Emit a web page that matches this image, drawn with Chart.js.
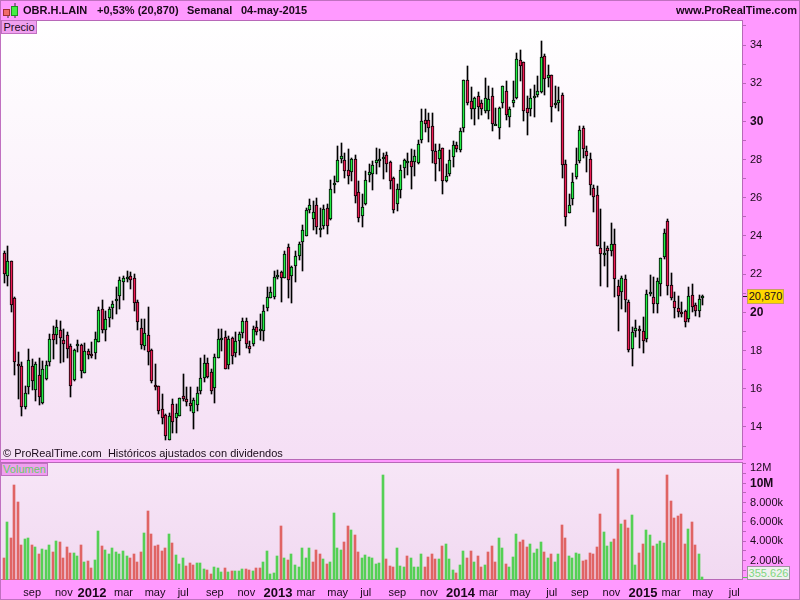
<!DOCTYPE html>
<html>
<head>
<meta charset="utf-8">
<title>OBR.H.LAIN</title>
<script src="https://cdn.jsdelivr.net/npm/chart.js@4"></script>
<style>
html, body { margin:0; padding:0; width:800px; height:600px; overflow:hidden; background:#ff99ff; font-family:"Liberation Sans", Arial, sans-serif; color:#1a0a1a; }
canvas { position:absolute; left:0; }
#priceChart { top:20px; }
#volumeChart { top:452px; }
.txt { position:absolute; white-space:pre; font-size:11px; line-height:14px; }
.head { font-weight:bold; top:3px; }
.tag { position:absolute; box-sizing:border-box; font-size:11px; text-align:center; }
.mark { position:absolute; left:743px; width:4px; height:1px; }
.frame { position:absolute; left:0; top:0; width:798px; height:598px; border:1px solid #c070c0; pointer-events:none; }
</style>
</head>
<body>
<canvas id="priceChart" width="800" height="440"></canvas>
<canvas id="volumeChart" width="800" height="148"></canvas>

<div class="frame"></div>

<svg style="position:absolute;left:3px;top:3px" width="16" height="16">
<path d="M5 7V15M12 0V15" stroke="#333" fill="none"/>
<rect x="0.5" y="6.5" width="6" height="6" fill="#f06a6a" stroke="#a03030"/>
<rect x="8.5" y="3.5" width="6" height="9" fill="#44ee44" stroke="#209020"/>
</svg>
<div class="txt head" style="left:23px">OBR.H.LAIN</div>
<div class="txt head" style="left:97px">+0,53% (20,870)</div>
<div class="txt head" style="left:187px">Semanal</div>
<div class="txt head" style="left:241px">04-may-2015</div>
<div class="txt head" style="right:3px">www.ProRealTime.com</div>

<div class="tag" style="left:1px;top:20px;width:36px;height:14px;line-height:12px;background:#f0a0f0;border:1px solid #c070c0">Precio</div>
<div class="txt" style="left:3px;top:446px">© ProRealTime.com  Históricos ajustados con dividendos</div>
<div class="tag" style="left:1px;top:463px;width:47px;height:13px;line-height:11px;background:#f0a0f0;border:1px solid #c070c0;color:#66cc66">Volumen</div>
<div class="txt" style="left:750px;top:460px">12M</div>

<div class="mark" style="top:296px;background:#222"></div>
<div class="tag" style="left:747px;top:289px;width:37px;height:15px;line-height:13px;background:#ffd700;border:1px solid #c8a060">20,870</div>
<div class="mark" style="top:577px;background:#55d055"></div>
<div class="tag" style="left:747px;top:566px;width:43px;height:14px;line-height:12px;background:#f0f0f0;border:1px solid #a090a0;color:#80d880">355.626</div>

<script>
// WEEKLY CANDLES
const opens = [23.12,21.89,22.68,20.76,17.29,17.19,15.02,16.07,17.20,15.96,16.71,15.28,16.50,17.38,18.87,18.80,19.09,18.55,18.81,18.24,
16.45,18.27,18.29,16.85,17.97,17.81,17.85,18.45,20.18,19.07,19.69,20.21,20.58,20.84,21.59,21.82,21.91,21.81,20.55,19.18,
18.24,18.81,18.04,16.19,16.13,14.93,14.61,13.30,15.19,14.46,14.59,15.61,15.45,15.24,14.75,15.15,15.86,16.54,17.34,16.87,
16.03,17.59,18.60,18.71,17.22,18.66,17.85,18.48,18.90,19.55,18.24,18.32,19.23,19.11,19.02,20.21,20.76,20.81,21.89,22.12,
21.81,23.43,21.91,22.44,22.96,23.69,24.01,25.37,24.90,25.64,24.38,24.50,25.48,24.90,26.74,26.85,28.04,28.00,27.48,27.37,
28.02,26.32,25.06,25.69,27.21,27.27,27.84,28.00,28.11,28.25,27.90,27.05,25.69,26.43,27.56,27.90,27.93,27.90,27.84,29.05,
30.05,30.05,29.78,28.47,28.03,28.60,26.86,27.25,28.16,28.74,28.52,29.63,32.15,31.05,30.63,31.31,30.94,30.52,30.57,31.31,
29.82,29.68,30.94,31.57,30.21,30.94,31.20,33.20,33.09,30.68,30.63,31.24,31.36,31.52,33.41,32.29,32.41,30.96,30.98,31.36,
27.79,25.22,25.95,27.11,27.93,29.63,28.47,28.05,26.53,26.16,23.38,23.07,23.38,23.21,23.59,21.39,21.05,21.75,20.55,18.06,
19.00,19.12,19.02,18.59,21.05,20.81,20.42,21.47,22.89,24.80,21.44,20.60,20.23,20.02,20.07,19.64,20.91,20.39,20.07,20.77];
const highs = [23.24,23.45,22.68,20.79,17.94,17.38,16.15,18.10,17.55,17.41,17.60,17.47,17.47,18.87,19.30,19.60,19.57,19.13,18.95,18.34,
18.08,18.57,18.34,18.38,18.08,18.46,18.95,20.30,20.65,20.09,20.27,20.58,21.35,21.84,21.88,22.19,22.14,22.02,20.65,19.65,
19.65,20.30,18.08,17.29,16.15,15.72,14.66,14.75,15.45,15.19,15.54,16.77,16.07,16.10,15.54,16.07,17.61,17.78,17.61,17.05,
17.82,19.13,19.13,19.04,18.78,18.69,18.95,18.95,19.69,19.72,18.51,19.29,19.57,19.93,20.41,21.35,21.35,22.19,22.23,22.19,
23.24,23.56,22.45,23.24,23.66,24.55,25.45,25.95,25.81,26.01,25.48,25.64,25.69,26.92,27.12,28.70,28.89,28.32,28.54,28.10,
28.23,26.88,26.18,27.39,27.76,27.93,28.63,28.53,28.32,28.40,27.93,27.09,26.74,27.70,28.05,28.32,28.58,28.49,29.05,30.63,
30.63,30.42,30.42,28.84,28.84,28.63,27.79,28.49,28.98,28.93,29.63,32.17,32.90,31.78,31.29,31.55,31.12,32.25,31.85,31.73,
30.68,30.77,31.83,32.13,30.73,32.11,33.60,33.74,33.13,31.33,31.68,31.90,32.38,34.21,33.53,32.95,32.41,31.85,31.78,31.47,
27.97,26.22,27.32,28.63,29.75,29.75,28.73,28.32,26.65,26.60,25.39,23.70,23.45,24.69,24.34,21.72,21.93,21.96,20.65,19.25,
19.60,19.30,19.74,21.19,21.98,21.87,21.81,22.85,24.38,24.90,22.07,21.05,20.88,20.55,20.13,21.35,21.49,20.49,20.93,20.93];
const lows = [21.53,21.40,20.00,16.71,15.45,14.58,14.93,15.75,15.93,15.37,15.14,15.22,16.47,17.20,17.55,18.34,17.33,17.41,17.59,15.59,
16.42,17.95,16.59,16.85,17.55,17.60,17.55,18.43,18.90,18.48,19.21,19.65,19.91,20.18,20.65,21.58,21.23,20.09,19.07,18.08,
18.03,17.24,16.31,15.92,14.66,14.14,13.30,13.30,13.70,13.70,14.58,15.37,15.10,14.84,13.91,14.84,15.75,16.38,16.56,15.75,
15.23,17.59,17.99,17.06,17.06,17.32,17.64,17.78,18.64,18.11,17.85,18.22,18.83,18.55,18.48,20.06,20.74,20.69,21.75,20.53,
21.79,20.74,20.47,21.58,22.72,22.15,24.01,25.20,24.29,24.12,23.94,24.36,24.08,24.82,26.25,26.83,27.84,27.04,26.74,26.88,
25.73,24.73,24.47,25.62,26.83,26.39,27.27,27.62,26.97,27.35,26.44,25.20,25.30,25.99,27.05,27.18,26.46,27.14,27.75,28.88,
29.42,28.93,27.83,26.88,27.39,26.18,26.83,27.13,27.62,28.40,28.40,29.45,30.85,30.12,29.80,30.15,30.33,30.45,30.10,29.49,
29.82,29.09,30.68,30.07,29.72,30.73,31.15,32.13,30.03,29.28,30.27,30.24,31.29,31.47,31.36,31.78,29.98,30.68,30.56,27.04,
24.52,25.20,25.64,26.98,27.83,28.09,27.35,26.15,25.24,23.47,21.40,22.45,21.32,22.94,20.79,19.01,20.18,20.00,17.94,17.20,
18.73,18.11,17.89,18.43,20.88,19.99,19.95,20.88,22.77,20.93,20.67,19.69,19.74,19.74,19.22,19.48,20.00,19.83,19.77,20.41];
const closes = [22.02,22.68,20.39,17.39,17.17,15.03,15.77,17.50,16.43,17.29,15.59,17.03,17.24,18.60,18.53,19.22,18.64,18.32,18.08,16.12,
18.03,18.32,16.91,17.97,17.76,17.69,18.60,20.12,19.07,19.65,20.18,20.42,20.70,21.68,21.81,21.86,21.68,20.49,19.50,18.27,
18.92,17.92,16.43,16.15,14.82,14.46,13.51,14.56,14.28,14.72,15.50,15.49,15.33,15.12,15.40,15.77,16.56,17.34,16.63,15.86,
17.66,18.60,18.64,17.06,18.60,17.69,18.50,18.87,19.55,18.37,18.06,19.13,18.95,19.15,20.07,20.81,21.07,21.86,21.96,21.79,
23.07,21.70,22.38,22.96,23.59,24.32,25.37,25.64,25.27,24.48,24.43,25.43,24.54,26.46,26.79,28.00,28.19,27.42,27.16,28.02,
26.11,24.94,25.53,26.93,27.37,27.74,27.98,28.05,28.16,27.79,26.90,25.37,26.46,27.48,27.98,27.95,27.62,28.21,28.84,30.03,
29.87,29.68,28.47,27.77,28.52,26.90,27.16,28.00,28.74,28.56,29.52,32.15,30.94,30.63,31.24,30.78,30.63,31.24,31.19,29.89,
29.87,30.71,31.83,30.36,30.66,31.13,33.25,32.92,30.57,30.42,31.24,31.33,31.57,33.36,32.20,32.41,30.78,30.99,31.10,27.74,
25.01,25.64,26.85,27.79,29.57,28.58,28.19,26.67,26.06,23.49,23.05,23.10,23.22,23.59,21.74,20.84,21.81,20.63,18.01,18.97,
19.18,19.00,18.50,20.97,21.09,20.42,21.65,22.85,24.17,21.37,20.74,20.21,20.00,19.90,19.48,20.86,20.28,20.07,20.70,20.87];

// VOLUME in millions, and colour of each bar
const volumes = [2.27,5.99,4.33,9.80,8.05,3.61,4.23,4.33,3.61,3.41,2.68,3.20,3.10,3.61,2.89,4.02,3.92,2.27,3.41,2.79,
2.79,2.48,3.61,1.86,1.96,1.24,2.06,5.06,3.51,3.10,2.68,3.30,2.89,2.68,2.99,2.48,2.27,2.68,1.86,2.89,
4.85,7.12,4.75,3.51,3.61,2.99,3.30,4.75,3.82,2.58,1.65,2.27,1.44,1.75,1.55,1.75,1.75,1.14,1.03,0.62,
1.34,1.24,0.83,1.24,0.83,0.93,0.93,0.93,1.14,1.14,1.03,0.93,1.24,1.24,1.86,2.99,0.62,0.72,2.48,5.57,
2.27,2.06,2.68,1.55,1.34,3.30,2.27,3.30,1.86,3.10,2.68,2.17,1.65,1.86,6.91,3.30,3.10,3.92,5.57,5.16,
4.64,2.89,2.27,2.58,2.37,2.27,1.65,1.75,10.84,2.17,1.44,1.34,3.30,1.44,1.34,2.48,2.27,1.34,1.34,2.68,
1.34,2.37,2.68,2.17,2.17,3.51,3.72,2.17,1.03,0.72,1.55,2.99,2.27,2.99,1.86,2.48,1.34,1.55,2.89,3.51,
1.86,4.33,3.30,1.65,1.34,2.37,4.75,3.92,4.13,3.41,3.72,2.79,3.20,3.92,2.89,2.27,2.68,1.86,2.68,5.68,
4.33,2.48,2.27,2.79,2.68,1.96,2.06,2.79,2.68,3.41,6.81,4.95,3.51,3.92,4.23,11.46,5.78,6.19,5.37,6.71,
1.55,2.79,3.72,5.16,4.64,3.51,3.72,4.02,3.82,10.84,8.15,6.40,6.60,6.81,3.72,5.26,5.99,3.61,2.68,0.355626];
const volumeColours = 'rgrrrrggrg'+'rgggrgrrrr'+'ggrgrrggrg'+'ggggggrrrr'+'grrrrrrgrg'+'ggrrrgggrr'+'gggrgrgggr'+'rgrrgg'+'gggr'+
	'grggggggrr'+'rgrggggrrg'+'rrgggggggr'+'rrgggrgggg'+'rrrrgrgggr'+'ggrrgrrgrr'+'rggrgggrrr'+'ggggrgrggr'+'rggggrrrrr'+'rgggrrgrrg'+'grrggrgggr'+'rrrrrgrrgg';

// X AXIS, bar number of each labelled tick
const tickBars = [8,17,25,34,43,51,60,69,78,86,95,103,112,121,130,138,147,156,164,173,182,190,199,208];
const tickLabels = ['sep','nov','2012','mar','may','jul','sep','nov','2013','mar','may','jul','sep','nov','2014','mar','may','jul','sep','nov','2015','mar','may','jul'];

const FONT = '"Liberation Sans", Arial, sans-serif';
const GREEN = '#22ee44', RED = '#ee1c55', VOL_GREEN = '#55d055', VOL_RED = '#e06464';
const AXIS = '#b868b8', INK = '#1a0a1a';

const bars = opens.map((o, i)=> i);

// panel background and border behind the marks
function panelPlugin(c1, c2) {
	return {
		id: 'panel',
		beforeDraw(chart) {
			const a = chart.chartArea, ctx = chart.ctx;
			const g = ctx.createLinearGradient(0, a.top, 0, a.bottom);
			g.addColorStop(0, c1);
			g.addColorStop(1, c2);
			ctx.fillStyle = g;
			ctx.fillRect(a.left, a.top, a.right - a.left, a.bottom - a.top);
			ctx.strokeStyle = AXIS;
			ctx.strokeRect(a.left - 0.5, a.top + 0.5, a.right - a.left + 1, a.bottom - a.top - 1);
		}
	};
}

// the original is drawn without antialias, so snap bars on whole pixels
// (2px volume bars sit on the left of the slot, d.nudge)
const snapBars = {
	id: 'snapBars',
	beforeDatasetsDraw(chart) {
		chart.data.datasets.forEach((d, n)=> {
			chart.getDatasetMeta(n).data.forEach(el=> {
				el.x = Math.round(el.x - el.width / 2 - (d.nudge || 0)) + el.width / 2;
				const top = Math.round(Math.min(el.y, el.base));
				const bottom = Math.round(Math.max(el.y, el.base));
				el.y = top;
				el.base = Math.max(bottom, top + (d.minPx || 1));
			});
		});
	}
};

function xAxis(show) {
	return {
		type: 'linear',
		display: show,
		offset: false,
		min: -0.9,
		max: 210.2,
		afterBuildTicks(scale) {
			scale.ticks = tickBars.map(v=> ({value: v}));
		},
		grid: {display: false, drawTicks: true, tickLength: 5, tickColor: AXIS, drawOnChartArea: false},
		border: {display: false},
		ticks: {
			autoSkip: false,
			maxRotation: 0,
			padding: 1,
			color: INK,
			callback: v=> tickLabels[tickBars.indexOf(v)],
			font(c) {
				const isYear = /^\d+$/.test(tickLabels[c.index] || '');
				return {family: FONT, size: isYear ? 13 : 11, weight: isYear ? 'bold' : 'normal'};
			}
		}
	};
}

// keep the plot edges where they are in the picture, whatever the labels need
function fixAxis(scale) {
	scale.width = 58;
	scale.paddingTop = 0;
	scale.paddingBottom = 0;
}

new Chart(document.getElementById('priceChart'), {
	type: 'bar',
	data: {
		datasets: [{
			data: bars.map(i=> ({x: i, y: [opens[i], closes[i]]})),
			backgroundColor: bars.map(i=> closes[i] >= opens[i] ? GREEN : RED),
			borderColor: '#000',
			borderWidth: 1,
			borderSkipped: false,
			barThickness: 3,
			grouped: false,
			minPx: 2
		}, {
			data: bars.map(i=> ({x: i, y: [lows[i], highs[i]]})),
			backgroundColor: '#000',
			borderWidth: 0,
			barThickness: 1,
			grouped: false
		}]
	},
	options: {
		responsive: false,
		animation: false,
		layout: {padding: {left: 1, top: 0, bottom: 0, right: 0}},
		plugins: {legend: {display: false}, tooltip: {enabled: false}},
		scales: {
			x: xAxis(false),
			y: {
				position: 'right',
				min: 12.27,
				max: 35.31,
				afterBuildTicks(scale) {
					const t = [];
					for(let v = 13; v <= 35; v++) t.push({value: v});
					scale.ticks = t;
				},
				afterFit: fixAxis,
				grid: {drawOnChartArea: false, tickLength: 4, tickColor: AXIS},
				border: {display: false},
				ticks: {
					autoSkip: false,
					padding: 4,
					color: INK,
					callback: v=> v % 2 ? '' : String(v),
					font(c) {
						const v = c.tick && c.tick.value;
						const big = v === 20 || v === 30;
						return {family: FONT, size: big ? 12 : 11, weight: big ? 'bold' : 'normal'};
					}
				}
			}
		}
	},
	plugins: [panelPlugin('#ffffff', '#f5dff5'), snapBars]
});

new Chart(document.getElementById('volumeChart'), {
	type: 'bar',
	data: {
		datasets: [{
			data: bars.map(i=> ({x: i, y: volumes[i]})),
			backgroundColor: bars.map(i=> volumeColours[i] === 'g' ? VOL_GREEN : VOL_RED),
			borderWidth: 0,
			barThickness: 2,
			grouped: false,
			nudge: 0.5
		}]
	},
	options: {
		responsive: false,
		animation: false,
		layout: {padding: {left: 1, top: 10, bottom: 0, right: 0}},
		plugins: {legend: {display: false}, tooltip: {enabled: false}},
		scales: {
			x: Object.assign(xAxis(true), {
				afterFit(scale) {
					scale.height = 20;
					scale.paddingLeft = 0;
					scale.paddingRight = 0;
				}
			}),
			y: {
				position: 'right',
				min: 0,
				max: 12.2,
				afterBuildTicks(scale) {
					const t = [];
					for(let v = 1; v <= 12; v++) t.push({value: v});
					scale.ticks = t;
				},
				afterFit: fixAxis,
				grid: {drawOnChartArea: false, tickLength: 4, tickColor: AXIS},
				border: {display: false},
				ticks: {
					autoSkip: false,
					padding: 4,
					color: INK,
					// 12M sits lower than its tick in the original, it is placed in the page above
					callback: v=> (v % 2 || v === 12) ? '' : (v === 10 ? '10M' : v + '.000k'),
					font(c) {
						const big = c.tick && c.tick.value === 10;
						return {family: FONT, size: big ? 12 : 11, weight: big ? 'bold' : 'normal'};
					}
				}
			}
		}
	},
	plugins: [panelPlugin('#f7e6f7', '#f1d9f1'), snapBars]
});
</script>
</body>
</html>
